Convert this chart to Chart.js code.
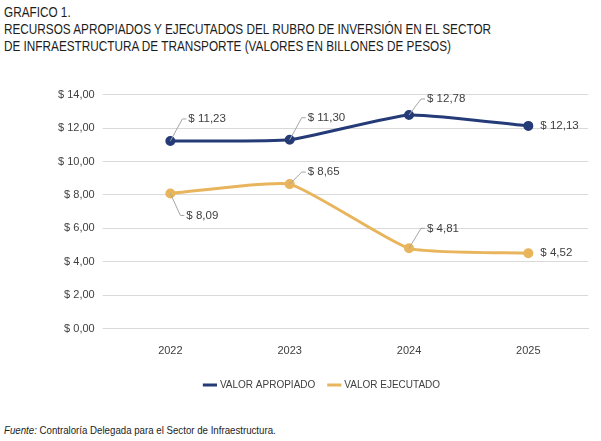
<!DOCTYPE html>
<html><head><meta charset="utf-8">
<script src="https://cdn.jsdelivr.net/npm/chart.js@4"></script>
<style>
body{margin:0;width:601px;height:441px;background:#fff;font-family:'Liberation Sans',sans-serif;position:relative;overflow:hidden}
#t{position:absolute;left:4px;top:4px;font-size:14px;line-height:17px;color:#1d1d1b;white-space:nowrap;transform:scaleX(0.84);transform-origin:0 0}
#c{position:absolute;left:50px;top:80px;width:545px;height:320px}
#f{position:absolute;left:4px;top:424px;font-size:11px;color:#1d1d1b;white-space:nowrap;transform:scaleX(0.88);transform-origin:0 0}
</style></head><body>
<div id="t">GRAFICO 1.<br>RECURSOS APROPIADOS Y EJECUTADOS DEL RUBRO DE INVERSIÓN EN EL SECTOR<br>DE INFRAESTRUCTURA DE TRANSPORTE (VALORES EN BILLONES DE PESOS)</div>
<div id="c"><canvas id="g"></canvas></div>
<div id="f"><i>Fuente:</i> Contraloría Delegada para el Sector de Infraestructura.</div>
<script>
const years = ['2022', '2023', '2024', '2025'];
const apropiado = [11.23, 11.30, 12.78, 12.13];
const ejecutado = [8.09, 8.65, 4.81, 4.52];
// label offsets [dx, dy] per point
const offA = [[12, -22], [12, -22], [12, -16], [6, 0]];
const offE = [[10, 22], [12, -12], [12, -20], [6, 0]];

const fmt = v => '$ ' + v.toFixed(2).replace('.', ',');

const labelPlugin = {
    id: 'labels',
    afterDatasetsDraw(chart) {
        const ctx = chart.ctx;
        ctx.save();
        ctx.font = '11.5px "Liberation Sans", sans-serif';
        ctx.textBaseline = 'middle';
        [offA, offE].forEach((offs, di) => {
            chart.getDatasetMeta(di).data.forEach((pt, i) => {
                const [dx, dy] = offs[i];
                const x2 = pt.x + dx, y2 = pt.y + dy;
                ctx.strokeStyle = '#a6a6a6';
                ctx.lineWidth = 1;
                if (dy !== 0) {
                    ctx.beginPath();
                    ctx.moveTo(pt.x, pt.y);
                    ctx.lineTo(x2, y2);
                    ctx.lineTo(x2 + 4, y2);
                    ctx.stroke();
                }
                ctx.fillStyle = '#404040';
                ctx.fillText(fmt(chart.data.datasets[di].data[i]), x2 + 6, y2);
            });
        });
        ctx.restore();
    }
};

Chart.defaults.font.family = '"Liberation Sans", sans-serif';
new Chart(document.getElementById('g'), {
    type: 'line',
    data: {
        labels: years,
        datasets: [
            { label: 'VALOR APROPIADO', data: apropiado, borderColor: '#253b78', backgroundColor: '#253b78', borderWidth: 3, pointRadius: 3.5, tension: 0.15 },
            { label: 'VALOR EJECUTADO', data: ejecutado, borderColor: '#e8b55d', backgroundColor: '#e8b55d', borderWidth: 3, pointRadius: 3.5, tension: 0.15 }
        ]
    },
    options: {
        responsive: true, maintainAspectRatio: false, animation: false,
        layout: { padding: { right: 0, top: 6 } },
        plugins: {
            legend: {
                position: 'bottom',
                labels: { usePointStyle: true, pointStyle: 'line', boxWidth: 30, padding: 14, color: '#404040', font: { size: 10 } }
            },
            tooltip: { enabled: false }
        },
        scales: {
            x: { offset: true, grid: { display: false }, border: { color: '#d9d9d9' }, ticks: { color: '#404040', font: { size: 11 }, padding: 8 } },
            y: {
                min: 0, max: 14,
                ticks: { stepSize: 2, color: '#404040', font: { size: 11 }, padding: 8, callback: v => '$ ' + v.toFixed(2).replace('.', ',') },
                grid: { color: '#d9d9d9' }, border: { display: false }
            }
        }
    },
    plugins: [labelPlugin]
});
</script>
</body></html>
